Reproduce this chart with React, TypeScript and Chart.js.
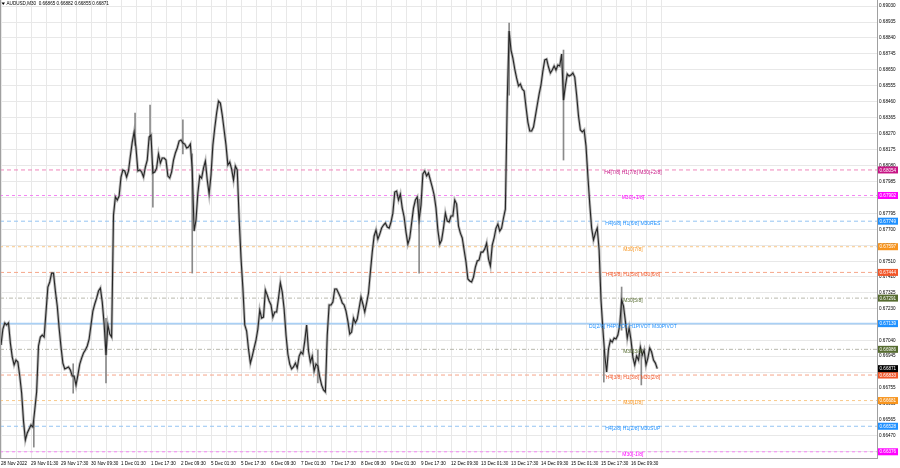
import React, { useEffect, useRef } from "react";
import { Chart, registerables } from "chart.js";

Chart.register(...registerables);

const symbolTitle = "AUDUSD,M30";
const headerOHLC = [0.66865, 0.66882, 0.66855, 0.66871];
const lastPrice = 0.66871;

// hourly closes (one value every 2 M30 bars), 28 Nov 09:30 .. 16 Dec 23:00
const closes = [
  0.67012, 0.67107, 0.67143, 0.67131, 0.67143, 0.67023, 0.66940, 0.66893, 0.66922, 0.66910,
  0.66827, 0.66726, 0.66559, 0.66446, 0.66488, 0.66511, 0.66535, 0.66523, 0.66625, 0.66732,
  0.67006, 0.67059, 0.67071, 0.67059, 0.67208, 0.67357, 0.67387, 0.67440, 0.67440, 0.67333,
  0.67244, 0.67113, 0.67000, 0.66904, 0.66869, 0.66875, 0.66881, 0.66863, 0.66827, 0.66827,
  0.66773, 0.66833, 0.66898, 0.66934, 0.66964, 0.66982, 0.67006, 0.67047, 0.67131, 0.67214,
  0.67256, 0.67291, 0.67333, 0.67351, 0.67268, 0.67137, 0.66952, 0.67131, 0.67077, 0.67059,
  0.67786, 0.67893, 0.67875, 0.67899, 0.68012, 0.68054, 0.68048, 0.68012, 0.68048, 0.68137,
  0.68220, 0.68280, 0.68185, 0.68048, 0.68054, 0.68042, 0.68012, 0.68071, 0.68113, 0.68250,
  0.68262, 0.68036, 0.68042, 0.68065, 0.68149, 0.68095, 0.68125, 0.68125, 0.68113, 0.68018,
  0.68006, 0.68042, 0.68113, 0.68155, 0.68185, 0.68226, 0.68232, 0.68214, 0.68208, 0.68185,
  0.68190, 0.68208, 0.68054, 0.67690, 0.67756, 0.67917, 0.68018, 0.68006, 0.68065, 0.68107,
  0.67994, 0.67911, 0.68024, 0.68202, 0.68304, 0.68393, 0.68464, 0.68452, 0.68381, 0.68292,
  0.68202, 0.68083, 0.68101, 0.68059, 0.67994, 0.68077, 0.68054, 0.67768, 0.67530, 0.67351,
  0.67131, 0.67095, 0.66988, 0.66904, 0.66946, 0.66994, 0.67041, 0.67107, 0.67220, 0.67172,
  0.67178, 0.67339, 0.67309, 0.67274, 0.67250, 0.67178, 0.67208, 0.67208, 0.67291, 0.67381,
  0.67327, 0.67226, 0.67071, 0.66958, 0.66898, 0.66869, 0.66881, 0.66904, 0.66875, 0.66946,
  0.66970, 0.66958, 0.67035, 0.67131, 0.66976, 0.66910, 0.66946, 0.66857, 0.66898, 0.66887,
  0.66821, 0.66773, 0.66744, 0.66732, 0.67071, 0.67250, 0.67250, 0.67268, 0.67345, 0.67345,
  0.67321, 0.67297, 0.67262, 0.67250, 0.67214, 0.67154, 0.67077, 0.67089, 0.67172, 0.67143,
  0.67166, 0.67232, 0.67297, 0.67256, 0.67208, 0.67262, 0.67321, 0.67446, 0.67565, 0.67661,
  0.67696, 0.67643, 0.67672, 0.67708, 0.67726, 0.67738, 0.67714, 0.67708, 0.67744, 0.67797,
  0.67922, 0.67928, 0.67875, 0.67911, 0.67827, 0.67774, 0.67684, 0.67613, 0.67649, 0.67738,
  0.67827, 0.67875, 0.67893, 0.67756, 0.67845, 0.68030, 0.68048, 0.68018, 0.68036, 0.67994,
  0.67952, 0.67905, 0.67827, 0.67696, 0.67613, 0.67637, 0.67708, 0.67797, 0.67750, 0.67744,
  0.67780, 0.67780, 0.67875, 0.67851, 0.67720, 0.67678, 0.67649, 0.67577, 0.67506, 0.67405,
  0.67393, 0.67387, 0.67416, 0.67476, 0.67512, 0.67518, 0.67565, 0.67565, 0.67583, 0.67619,
  0.67524, 0.67482, 0.67607, 0.67649, 0.67708, 0.67732, 0.67690, 0.67708, 0.67768, 0.67821,
  0.68470, 0.68881, 0.68768, 0.68720, 0.68655, 0.68601, 0.68554, 0.68566, 0.68536, 0.68524,
  0.68429, 0.68339, 0.68286, 0.68286, 0.68310, 0.68375, 0.68441, 0.68506, 0.68560, 0.68643,
  0.68709, 0.68714, 0.68667, 0.68631, 0.68649, 0.68673, 0.68649, 0.68679, 0.68673, 0.68744,
  0.68470, 0.68554, 0.68625, 0.68613, 0.68619, 0.68631, 0.68607, 0.68500, 0.68375, 0.68292,
  0.68280, 0.68292, 0.68196, 0.68018, 0.67851, 0.67708, 0.67637, 0.67678, 0.67708, 0.67577,
  0.67280, 0.67107, 0.66952, 0.66851, 0.66988, 0.67041, 0.67029, 0.67053, 0.67047, 0.67071,
  0.67131, 0.67280, 0.67244, 0.67154, 0.67053, 0.67113, 0.67041, 0.66940, 0.66893, 0.66946,
  0.66922, 0.67000, 0.66952, 0.66982, 0.66893, 0.66934, 0.66994, 0.66970, 0.66922, 0.66904,
  0.66871,
];
const barsPerPoint = 2;

// notable candle wicks (bar index, low, high)
const wickBars = [35, 77, 112, 143, 159, 162, 194, 204, 338, 446, 542, 600, 643, 662, 683];
const wickLows = [0.66404, 0.66725, 0.66786, 0.68200, 0.68232, 0.67833, 0.68150, 0.67440, 0.66786, 0.67440, 0.68500, 0.68113, 0.66791, 0.67100, 0.66774];
const wickHighs = [0.66560, 0.66900, 0.67170, 0.68393, 0.68441, 0.68080, 0.68352, 0.68150, 0.66980, 0.67880, 0.68929, 0.68768, 0.66980, 0.67357, 0.66950];

const timeLabels = [
  "28 Nov 2022", "29 Nov 01:30", "29 Nov 17:30", "30 Nov 09:30", "1 Dec 01:30", "1 Dec 17:30",
  "2 Dec 09:30", "5 Dec 01:30", "5 Dec 17:30", "6 Dec 09:30", "7 Dec 01:30", "7 Dec 17:30",
  "8 Dec 09:30", "9 Dec 01:30", "9 Dec 17:30", "12 Dec 09:30", "13 Dec 01:30", "13 Dec 17:30",
  "14 Dec 09:30", "15 Dec 01:30", "15 Dec 17:30", "16 Dec 09:30",
];
const barsPerLabel = 32;

const priceTicks = [
  0.69030, 0.68935, 0.68840, 0.68745, 0.68650, 0.68555, 0.68460, 0.68365, 0.68270, 0.68175,
  0.68080, 0.67985, 0.67890, 0.67795, 0.67700, 0.67605, 0.67510, 0.67420, 0.67325, 0.67230,
  0.67135, 0.67040, 0.66945, 0.66850, 0.66755, 0.66660, 0.66565, 0.66470, 0.66375,
];

const levelValues = [
  0.68054, 0.67902, 0.67749, 0.67597, 0.67444, 0.67291,
  0.67139, 0.66986, 0.66833, 0.66681, 0.66528, 0.66376,
];
const levelNames = [
  "H4[7/8] H1[7/8] M30[+2/8]", "M30[+1/8]", "H4[6/8] H1[6/8] M30RES", "M30[7/8]",
  "H4[5/8] H1[5/8] M30[6/8]", "M30[5/8]", "D1[2/8] H4PIVOT H1PIVOT M30PIVOT", "M30[3/8]",
  "H4[3/8] H1[3/8] M30[2/8]", "M30[1/8]", "H4[2/8] H1[2/8] M30SUP", "M30[-1/8]",
];
const levelColors = [
  "#c71585", "#ff00ff", "#1e90ff", "#f7941d", "#f2572a", "#556b2f",
  "#1e90ff", "#556b2f", "#f2572a", "#f7941d", "#1e90ff", "#ff00ff",
];
const levelLineColors = [
  "#ef86bb", "#f386f3", "#94c4f2", "#f9c98a", "#f6a68a", "#b9b9ae",
  "#a9d0f5", "#b9b9ae", "#f6a68a", "#f9c98a", "#94c4f2", "#f386f3",
];
const levelDashes = [
  [4, 3], [3, 3], [4, 3], [3, 3], [4, 3], [4, 2, 1, 2],
  [], [4, 2, 1, 2], [4, 3], [3, 3], [4, 3], [3, 3],
];
const levelLabelBar = 674;

const X_MIN = -1.0667;
const X_MAX = 934.4;
const Y_MIN = 0.66339;
const Y_MAX = 0.69066;

const AXIS_FONT = '"Liberation Sans", Arial, sans-serif';

const mtPlugin = {
  id: "mtDecor",
  afterDraw(chart: any) {
    const { ctx, chartArea, scales } = chart;
    const ys = scales.y;
    const xs = scales.x;
    ctx.save();
    ctx.strokeStyle = "#a0a0a0";
    ctx.lineWidth = 1;
    ctx.beginPath();
    ctx.moveTo(0.5, chartArea.top);
    ctx.lineTo(0.5, chartArea.bottom);
    ctx.stroke();

    ctx.font = `5px ${AXIS_FONT}`;
    ctx.textAlign = "center";
    ctx.textBaseline = "middle";
    const cx = xs.getPixelForValue(levelLabelBar);
    levelValues.forEach((v, i) => {
      const py = ys.getPixelForValue(v);
      ctx.fillStyle = levelColors[i];
      ctx.fillText(levelNames[i], cx, py + 2.5);
    });

    ctx.font = `4.6px ${AXIS_FONT}`;
    ctx.textAlign = "left";
    const boxX = chartArea.right + 1;
    const drawBox = (v: number, bg: string) => {
      const py = ys.getPixelForValue(v);
      ctx.fillStyle = bg;
      ctx.fillRect(boxX, py - 3.5, 20, 7);
      ctx.fillStyle = "#ffffff";
      ctx.fillText(v.toFixed(5), boxX + 1.5, py + 0.3);
    };
    levelValues.forEach((v, i) => drawBox(v, levelColors[i]));
    drawBox(lastPrice, "#000000");

    ctx.fillStyle = "#000";
    ctx.beginPath();
    ctx.moveTo(1.5, 2.5);
    ctx.lineTo(5, 2.5);
    ctx.lineTo(3.25, 5);
    ctx.closePath();
    ctx.fill();
    ctx.font = `4.6px ${AXIS_FONT}`;
    ctx.textBaseline = "middle";
    ctx.fillText(
      `${symbolTitle}  ${headerOHLC.map((v) => v.toFixed(5)).join(" ")}`,
      6.5,
      4
    );
    ctx.restore();
  },
};

export default function App() {
  const ref = useRef<HTMLCanvasElement | null>(null);

  useEffect(() => {
    if (!ref.current) return;
    const pricePts = closes.map((c, i) => ({ x: i * barsPerPoint, y: c }));
    const wickPts = wickBars.map((b, i) => ({ x: b, y: [wickLows[i], wickHighs[i]] }));
    const levelSets = levelValues.map((v, i) => ({
      type: "line" as const,
      data: [
        { x: X_MIN, y: v },
        { x: X_MAX, y: v },
      ],
      borderColor: levelLineColors[i],
      borderWidth: levelDashes[i].length ? 1 : 1.6,
      borderDash: levelDashes[i],
      pointRadius: 0,
      order: 5,
    }));
    const chart = new Chart(ref.current, {
      type: "line",
      data: {
        datasets: [
          ...levelSets,
          {
            type: "bar",
            data: wickPts,
            backgroundColor: "#8a8a8a",
            barThickness: 1,
            order: 3,
          },
          {
            data: pricePts,
            borderColor: "rgba(130,130,130,0.55)",
            borderWidth: 2.8,
            pointRadius: 0,
            tension: 0,
            order: 2,
          },
          {
            data: pricePts,
            borderColor: "#262626",
            borderWidth: 1.1,
            pointRadius: 0,
            tension: 0,
            order: 1,
          },
        ],
      },
      options: {
        animation: false,
        responsive: false,
        maintainAspectRatio: false,
        devicePixelRatio: 1,
        layout: { padding: 0 },
        plugins: {
          legend: { display: false },
          tooltip: { enabled: false },
        },
        scales: {
          x: {
            type: "linear",
            min: X_MIN,
            max: X_MAX,
            offset: false,
            afterBuildTicks: (scale: any) => {
              const t = [];
              for (let b = 0; b <= timeLabels.length * barsPerLabel; b += barsPerLabel / 2) {
                t.push({ value: b });
              }
              scale.ticks = t;
            },
            afterFit: (scale: any) => {
              scale.height = 10;
              scale.paddingLeft = 0;
              scale.paddingRight = 0;
            },
            ticks: {
              autoSkip: false,
              maxRotation: 0,
              minRotation: 0,
              align: "start",
              padding: 3,
              color: "#000",
              font: { family: AXIS_FONT, size: 4.6 },
              callback: (v: any) => {
                const n = Number(v);
                if (n % barsPerLabel !== 0) return "";
                return timeLabels[n / barsPerLabel] ?? "";
              },
            },
            grid: { color: "#e8e8e8", lineWidth: 1, drawTicks: false, offset: false },
            border: { display: true, color: "#a0a0a0" },
          },
          y: {
            type: "linear",
            position: "right",
            min: Y_MIN,
            max: Y_MAX,
            afterBuildTicks: (scale: any) => {
              scale.ticks = priceTicks.map((v) => ({ value: v }));
            },
            afterFit: (scale: any) => {
              scale.width = 23;
              scale.paddingTop = 0;
              scale.paddingBottom = 0;
            },
            ticks: {
              padding: 2,
              color: "#000",
              font: { family: AXIS_FONT, size: 4.6 },
              callback: (v: any) => Number(v).toFixed(5),
            },
            grid: { color: "#e8e8e8", lineWidth: 1, drawTicks: false },
            border: { display: true, color: "#a0a0a0" },
          },
        },
      },
      plugins: [mtPlugin],
    } as any);
    return () => chart.destroy();
  }, []);

  return (
    <div
      style={{
        position: "fixed",
        left: 0,
        top: 0,
        width: 900,
        height: 468,
        background: "#ffffff",
      }}
    >
      <canvas ref={ref} width={900} height={468} style={{ display: "block" }} />
    </div>
  );
}
